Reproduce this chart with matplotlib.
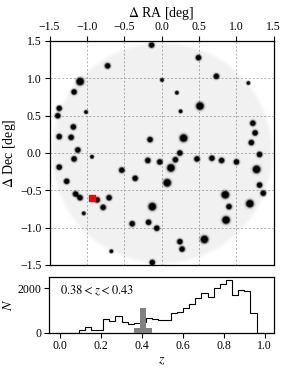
import numpy as np
import matplotlib
matplotlib.use("Agg")
import matplotlib.pyplot as plt

plt.rcParams['font.family'] = ['Liberation Serif', 'DejaVu Serif']
plt.rcParams['mathtext.fontset'] = 'stix'

# ---- data: cluster positions (deg) and richness ----
cl_ra = [-0.14, -0.73, 0.49, -1.10, 0.73, 0.00, -1.18, 0.20, -1.38, -1.40, -1.02, 0.51,
         0.25, 1.16, -1.19, -1.38, -1.22, 1.22, 1.25, 1.20, 0.29, -0.16, -1.13, -1.18,
         -0.94, 0.24, 0.18, 0.47, 0.67, 0.80, 1.00, 1.31, -0.19, -0.03, 0.12, -1.38,
         -0.54, -0.36, 0.07, 1.27, -1.28, 1.31, 1.36, -1.16, -1.10, -0.87, -0.79, -0.71,
         -1.05, -0.13, 0.85, 0.90, 1.18, 0.86, -0.40, -0.18, -0.07, 0.24, 0.57, 0.27,
         -0.68, -0.13]
cl_dec = [1.45, 1.17, 1.28, 0.96, 1.03, 0.98, 0.82, 0.81, 0.60, 0.50, 0.55, 0.63,
          0.56, 0.94, 0.35, 0.22, 0.21, 0.40, 0.27, 0.14, 0.20, 0.18, 0.04, -0.08,
          -0.05, 0.00, -0.09, -0.08, -0.07, -0.10, -0.12, -0.02, -0.10, -0.12, -0.20, -0.19,
          -0.23, -0.34, -0.40, -0.22, -0.38, -0.43, -0.54, -0.55, -0.60, -0.63, -0.73, -0.60,
          -0.81, -0.72, -0.56, -0.72, -0.68, -0.90, -0.95, -0.93, -1.01, -1.19, -1.16, -1.29,
          -1.32, -1.47]
cl_rich = [2, 2, 2, 3, 2, 1, 2, 1, 2, 2, 1, 3,
           1, 1, 2, 2, 2, 2, 2, 2, 3, 2, 2, 2,
           1, 2, 2, 2, 2, 2, 2, 2, 2, 2, 3, 2,
           2, 2, 3, 3, 2, 2, 2, 2, 2, 2, 2, 2,
           1, 3, 3, 2, 3, 3, 2, 2, 2, 2, 3, 2,
           1, 2]
target_ra = [-0.93]
target_dec = [-0.60]
field_radius = 1.48

# ---- redshift histogram ----
z_edges = np.round(np.arange(0.0, 0.99 + 1e-9, 0.03), 2)
z_counts = [0, 0, 0, 120, 255, 105, 105, 600, 540, 750, 480, 405,
            450, 500, 660, 615, 570, 555, 870, 945, 1100, 1310, 1580, 1775,
            1610, 2015, 2195, 2375, 1715, 1925, 1880, 890, 0]
sel_edges = [0.36, 0.39, 0.42, 0.45]
sel_counts = [225, 1100, 225]
z_lo, z_hi = 0.38, 0.43

fig = plt.figure(figsize=(2.91, 3.70), dpi=100)
ax = fig.add_axes([0.1684, 0.2838, 0.7732, 0.6054])
axh = fig.add_axes([0.1684, 0.1008, 0.7732, 0.1497])

# density image built from cluster list
n = 400
g = np.linspace(-1.5, 1.5, n)
X, Y = np.meshgrid(g, g)
R = np.hypot(X, Y)
dens = 0.055 * np.clip((field_radius - R) / 0.06 + 0.5, 0, 1)
sig = {1: 0.013, 2: 0.019, 3: 0.026}
for x0, y0, r in zip(cl_ra, cl_dec, cl_rich):
    s = sig[r]
    dens += 4.0 * np.exp(-((X - x0) ** 2 + (Y - y0) ** 2) / (2 * s * s))
dens = np.clip(dens, 0, 1)
rgba = np.zeros((n, n, 4))
rgba[..., 3] = dens
ax.imshow(rgba, extent=[-1.5, 1.5, -1.5, 1.5], origin='lower',
          interpolation='bilinear', zorder=1)
ax.plot(target_ra, target_dec, 's', color='red', ms=4.3, mec='red', zorder=5)

ax.set_xlim(-1.5, 1.5)
ax.set_ylim(-1.5, 1.5)
ticks = [-1.5, -1.0, -0.5, 0.0, 0.5, 1.0, 1.5]
ax.set_xticks(ticks)
ax.set_yticks(ticks)
ax.xaxis.tick_top()
ax.xaxis.set_label_position('top')
ax.tick_params(axis='both', labelsize=8.5, length=3.5, width=0.8, direction='out', pad=2)
ax.set_axisbelow(True)
ax.grid(True, linestyle=(0, (2, 2)), color='0.7', linewidth=0.7, zorder=0.5)
ax.set_xlabel(r'$\Delta$ RA [deg]', fontsize=10, labelpad=3)
ax.set_ylabel(r'$\Delta$ Dec [deg]', fontsize=10, labelpad=2)
for sp in ax.spines.values():
    sp.set_linewidth(0.9)
    sp.set_zorder(6)

# histogram
axh.stairs(sel_counts, sel_edges, fill=True, color='0.5', zorder=3)
axh.stairs(z_counts, z_edges, color='black', linewidth=0.8, zorder=2)
axh.set_xlim(-0.055, 1.045)
axh.set_ylim(0, 2500)
axh.set_xticks([0.0, 0.2, 0.4, 0.6, 0.8, 1.0])
axh.set_yticks([0, 2000])
axh.tick_params(axis='both', labelsize=8.5, length=3.5, width=0.8, direction='out', pad=2)
axh.set_xlabel(r'$z$', fontsize=10, labelpad=1)
axh.set_ylabel(r'$N$', fontsize=10, labelpad=2)
axh.text(0.05, 0.76, r'$%.2f < z < %.2f$' % (z_lo, z_hi), transform=axh.transAxes,
         fontsize=9, va='center', ha='left')
for sp in axh.spines.values():
    sp.set_linewidth(0.9)

fig.savefig('out.png', dpi=100)
